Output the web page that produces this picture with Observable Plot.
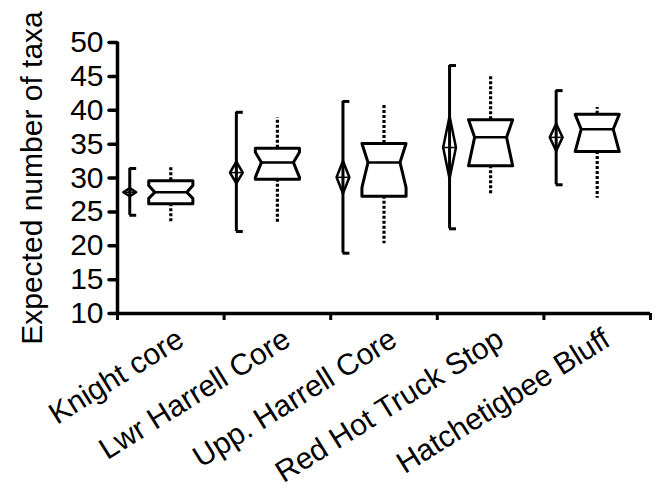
<!DOCTYPE html>
<html>
<head>
<meta charset="utf-8">
<script src="https://cdn.jsdelivr.net/npm/d3@7"></script>
<script src="https://cdn.jsdelivr.net/npm/@observablehq/plot@0.6"></script>
<style>
  html, body { margin: 0; padding: 0; background: white; }
</style>
</head>
<body>
<div id="chart"></div>
<script>
const sites = ["Knight core", "Lwr Harrell Core", "Upp. Harrell Core", "Red Hot Truck Stop", "Hatchetigbee Bluff"];
const bracketLow  = [24.5, 22.1, 18.9, 22.5, 29.0];
const bracketHigh = [31.4, 39.7, 41.3, 46.6, 42.9];
const meanValue   = [27.9, 30.8, 30.1, 34.5, 36.0];
const meanHalfCI  = [0.6, 1.6, 2.4, 4.6, 2.0];
const q1          = [26.2, 29.8, 27.3, 31.8, 33.9];
const median      = [27.9, 32.3, 32.3, 36.0, 37.2];
const q3          = [29.6, 34.4, 35.1, 38.6, 39.4];
const whiskerLow  = [23.3, 23.4, 20.3, 27.4, 27.0];
const whiskerHigh = [31.8, 38.9, 40.7, 45.1, 40.4];
const notchLow    = [27.0, 30.1, 28.6, 31.8, 33.9];
const notchHigh   = [28.9, 33.8, 35.1, 38.6, 39.4];
const yTicks = [10, 15, 20, 25, 30, 35, 40, 45, 50];
const yLabel = "Expected number of taxa";

// layout constants (in x-index units)
const BO = 0.115;    // bracket offset from group start
const SERIF = 0.065; // bracket serif length
const DW = 0.06;     // diamond half width
const BH = 0.207;    // box half width
const NH = 0.15;     // notch half width
const C = 0.5;       // box centre

const rows = sites.map((site, i) => ({
  site, i,
  blo: bracketLow[i], bhi: bracketHigh[i],
  mean: meanValue[i], h: meanHalfCI[i],
  q1: q1[i], med: median[i], q3: q3[i],
  wlo: whiskerLow[i], whi: whiskerHigh[i],
  nlo: Math.max(notchLow[i], q1[i]), nhi: Math.min(notchHigh[i], q3[i])
}));

const diamondPts = rows.flatMap(d => {
  const x = d.i + BO;
  return [[x, d.mean + d.h], [x + DW, d.mean], [x, d.mean - d.h], [x - DW, d.mean]]
    .map(([px, py]) => ({site: d.site, px, py}));
});

const boxPts = rows.flatMap(d => {
  const c = d.i + C;
  return [
    [c - BH, d.q3], [c + BH, d.q3], [c + BH, d.nhi], [c + NH, d.med], [c + BH, d.nlo],
    [c + BH, d.q1], [c - BH, d.q1], [c - BH, d.nlo], [c - NH, d.med], [c - BH, d.nhi]
  ].map(([px, py]) => ({site: d.site, px, py}));
});

const font = "'Liberation Sans', Arial, Helvetica, sans-serif";

const chart = Plot.plot({
  width: 659,
  height: 494,
  marginLeft: 117,
  marginRight: 9,
  marginTop: 42,
  marginBottom: 181,
  x: {domain: [0, 5]},
  y: {domain: [10, 50]},
  style: {fontFamily: font, fontSize: "30px", color: "black", background: "white"},
  marks: [
    Plot.axisY(yTicks, {tickSize: 8, tickPadding: 6, fontSize: 30, strokeWidth: 3.5, strokeLinecap: "round", label: null}),
    Plot.axisX([0, 1, 2, 3, 4, 5], {tickSize: 7, tickFormat: () => "", strokeWidth: 3, label: null}),
    Plot.ruleX([0], {y1: 10, y2: 50, strokeWidth: 3.5}),
    Plot.ruleY([10], {x1: 0, x2: 5, strokeWidth: 3.5}),
    // brackets
    Plot.ruleX(rows, {x: d => d.i + BO, y1: "blo", y2: "bhi", strokeWidth: 3}),
    Plot.ruleY(rows, {y: "blo", x1: d => d.i + BO, x2: d => d.i + BO + SERIF, strokeWidth: 3}),
    Plot.ruleY(rows, {y: "bhi", x1: d => d.i + BO, x2: d => d.i + BO + SERIF, strokeWidth: 3}),
    // mean diamonds
    Plot.line(diamondPts, {x: "px", y: "py", z: "site", curve: "linear-closed", stroke: "black", strokeWidth: 2.5}),
    Plot.ruleY(rows, {y: "mean", x1: d => d.i + BO - DW, x2: d => d.i + BO + DW, strokeWidth: 1.5}),
    // whiskers
    Plot.ruleX(rows, {x: d => d.i + C, y1: "q3", y2: "whi", strokeWidth: 3.2, strokeDasharray: "3,2"}),
    Plot.ruleX(rows, {x: d => d.i + C, y1: "q1", y2: "wlo", strokeWidth: 3.2, strokeDasharray: "3,2"}),
    // notched boxes
    Plot.line(boxPts, {x: "px", y: "py", z: "site", curve: "linear-closed", stroke: "black", strokeWidth: 3}),
    Plot.ruleY(rows, {y: "med", x1: d => d.i + C - NH, x2: d => d.i + C + NH, strokeWidth: 2.5}),
    // category labels
    Plot.text(rows, {x: d => d.i + C, y: 10, text: "site", rotate: -32, textAnchor: "end", lineAnchor: "bottom", fontSize: 30, dx: 15, dy: 31, fill: "black"}),
    // y label
    Plot.text([yLabel], {frameAnchor: "left", text: d => d, rotate: -90, textAnchor: "middle", lineAnchor: "bottom", fontSize: 30, dx: -76, fill: "black"})
  ]
});
document.getElementById("chart").appendChild(chart);
</script>
</body>
</html>
